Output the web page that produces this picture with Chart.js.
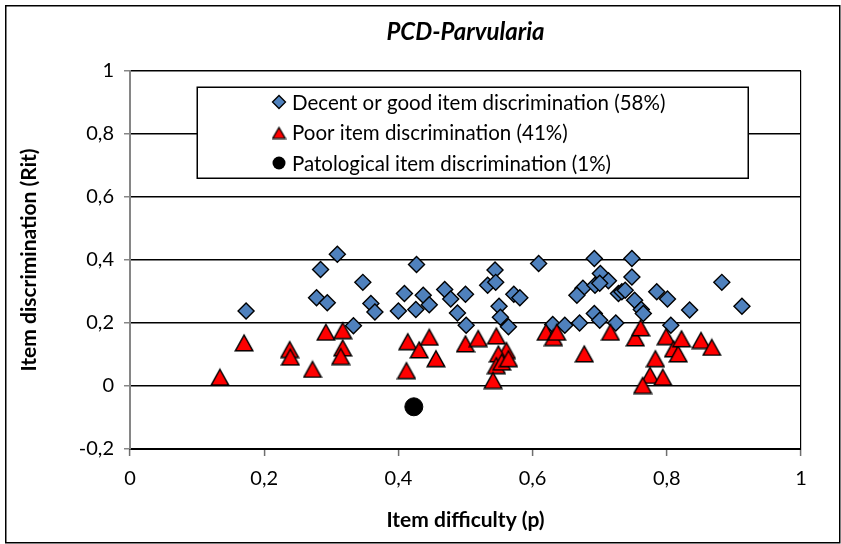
<!DOCTYPE html>
<html>
<head>
<meta charset="utf-8">
<title>PCD-Parvularia</title>
<script src="https://cdn.jsdelivr.net/npm/chart.js@4/dist/chart.umd.min.js"></script>
<style>
  html, body { margin: 0; padding: 0; background: #fff; }
  #wrap { width: 841px; height: 544px; position: relative; }
  canvas { display: block; }
</style>
</head>
<body>
<div id="wrap"><canvas id="chart" width="841" height="544"></canvas></div>
<script>
// Texts
const chartTitle = 'PCD-Parvularia';
const xAxisTitle = 'Item difficulty (p)';
const yAxisTitle = 'Item discrimination (Rit)';
const seriesLabels = [
  'Decent or good item discrimination (58%)',
  'Poor item discrimination (41%)',
  'Patological item discrimination (1%)'
];

// Axis ticks
const xTickValues = [0, 0.2, 0.4, 0.6, 0.8, 1];
const yTickValues = [-0.2, 0, 0.2, 0.4, 0.6, 0.8, 1];

// Items with decent or good discrimination: difficulty p and Rit
const decentP = [0.173, 0.284, 0.278, 0.294, 0.309, 0.347, 0.359, 0.365, 0.333, 0.427,
  0.409, 0.400, 0.426, 0.437, 0.446, 0.469, 0.478, 0.500, 0.488, 0.501,
  0.544, 0.533, 0.545, 0.550, 0.552, 0.564, 0.572, 0.581, 0.609, 0.692,
  0.748, 0.701, 0.713, 0.748, 0.675, 0.666, 0.693, 0.700, 0.728, 0.733,
  0.738, 0.752, 0.762, 0.765, 0.785, 0.801, 0.834, 0.882, 0.912, 0.630,
  0.648, 0.670, 0.692, 0.700, 0.724, 0.806];
const decentRit = [0.238, 0.370, 0.280, 0.264, 0.418, 0.329, 0.262, 0.235, 0.191, 0.386,
  0.294, 0.238, 0.243, 0.288, 0.258, 0.306, 0.276, 0.291, 0.232, 0.193,
  0.368, 0.320, 0.329, 0.253, 0.218, 0.188, 0.291, 0.280, 0.389, 0.405,
  0.405, 0.357, 0.334, 0.346, 0.310, 0.288, 0.320, 0.326, 0.294, 0.299,
  0.304, 0.272, 0.243, 0.230, 0.299, 0.276, 0.241, 0.329, 0.253, 0.195,
  0.193, 0.200, 0.230, 0.209, 0.200, 0.193];

// Items with poor discrimination
const poorP = [0.170, 0.134, 0.238, 0.239, 0.272, 0.292, 0.317, 0.317, 0.314, 0.414,
  0.431, 0.446, 0.456, 0.412, 0.500, 0.519, 0.546, 0.561, 0.549, 0.546,
  0.554, 0.564, 0.541, 0.620, 0.631, 0.636, 0.677, 0.716, 0.753, 0.761,
  0.799, 0.810, 0.817, 0.822, 0.851, 0.867, 0.783, 0.775, 0.794, 0.764];
const poorRit = [0.138, 0.029, 0.117, 0.093, 0.054, 0.172, 0.177, 0.122, 0.095, 0.142,
  0.116, 0.156, 0.088, 0.050, 0.135, 0.152, 0.160, 0.114, 0.103, 0.066,
  0.077, 0.088, 0.019, 0.172, 0.155, 0.172, 0.103, 0.172, 0.154, 0.186,
  0.158, 0.119, 0.103, 0.151, 0.146, 0.124, 0.088, 0.035, 0.029, 0.003];

// Items with pathological (negative) discrimination
const patoP = [0.423];
const patoRit = [-0.066];

const FONT = 'Lato, "Open Sans", sans-serif';
const BLUE = '#4F81BD';
const RED = '#FF0000';

function toPoints(xs, ys) {
  return xs.map((x, i) => ({ x: x, y: ys[i] }));
}
function fmt(v) {
  return String(Math.round(v * 10) / 10).replace('.', ',');
}

// Triangle marker centred on its bounding box
function makeTriangle(w, h, lw) {
  const c = document.createElement('canvas');
  c.width = w; c.height = h;
  const g = c.getContext('2d');
  g.beginPath();
  g.moveTo(w / 2, 2);
  g.lineTo(w - 1.2, h - 1.2);
  g.lineTo(1.2, h - 1.2);
  g.closePath();
  g.fillStyle = RED;
  g.fill();
  g.lineWidth = lw;
  g.lineJoin = 'miter';
  g.strokeStyle = '#000';
  g.stroke();
  return c;
}
const triMarker = makeTriangle(20, 19, 1.5);
const triLegend = makeTriangle(15, 14, 1.3);

function drawDiamond(ctx, x, y, r) {
  ctx.beginPath();
  ctx.moveTo(x - r, y); ctx.lineTo(x, y - r); ctx.lineTo(x + r, y); ctx.lineTo(x, y + r);
  ctx.closePath();
  ctx.fillStyle = BLUE; ctx.fill();
  ctx.lineWidth = 1.3; ctx.strokeStyle = '#000'; ctx.stroke();
}
function drawDot(ctx, x, y, r) {
  ctx.beginPath();
  ctx.arc(x, y, r, 0, Math.PI * 2);
  ctx.fillStyle = '#000'; ctx.fill();
}

// Legend box sitting over the grid, under the markers
const legendBox = {
  id: 'legendBox',
  beforeDatasetsDraw(chart) {
    const ctx = chart.ctx;
    const L = 197, T = 87, R = 748, B = 178;
    ctx.save();
    ctx.fillStyle = '#fff';
    ctx.fillRect(L, T, R - L, B - T);
    ctx.lineWidth = 1.5;
    ctx.strokeStyle = '#000';
    ctx.strokeRect(L + 0.25, T + 0.25, R - L, B - T);
    const rows = [102, 132.5, 163];
    const mx = 279, tx = 292;
    ctx.font = '20.5px ' + FONT;
    ctx.fillStyle = '#000';
    ctx.textBaseline = 'middle';
    ctx.textAlign = 'left';
    chart.data.datasets.forEach((ds, i) => {
      const y = rows[i];
      if (i === 0) drawDiamond(ctx, mx, y, 6.5);
      else if (i === 1) ctx.drawImage(triLegend, mx - triLegend.width / 2, y - triLegend.height / 2);
      else drawDot(ctx, mx, y, 6.5);
      ctx.fillStyle = '#000';
      ctx.fillText(ds.label, tx, y + 1);
    });
    ctx.restore();
  }
};

// Frame, chart title and axis titles
const frameAndTitles = {
  id: 'frameAndTitles',
  afterDraw(chart) {
    const ctx = chart.ctx;
    const area = chart.chartArea;
    ctx.save();
    ctx.lineWidth = 1.5;
    ctx.strokeStyle = '#000';
    ctx.strokeRect(5.75, 5.75, 834, 537);
    ctx.fillStyle = '#000';
    ctx.textAlign = 'center';
    ctx.textBaseline = 'middle';
    ctx.font = 'italic bold 24px ' + FONT;
    ctx.fillText(chartTitle, (area.left + area.right) / 2, 32);
    ctx.font = 'bold 21px ' + FONT;
    ctx.fillText(xAxisTitle, (area.left + area.right) / 2, 520);
    ctx.translate(29, (area.top + area.bottom) / 2);
    ctx.rotate(-Math.PI / 2);
    ctx.fillText(yAxisTitle, 0, 0);
    ctx.restore();
  }
};

const chart = new Chart(document.getElementById('chart'), {
  type: 'scatter',
  data: {
    datasets: [
      {
        label: seriesLabels[0],
        data: toPoints(decentP, decentRit),
        pointStyle: 'rectRot',
        pointRadius: 8,
        backgroundColor: BLUE,
        borderColor: '#000',
        borderWidth: 1.4,
        order: 2
      },
      {
        label: seriesLabels[1],
        data: toPoints(poorP, poorRit),
        pointStyle: triMarker,
        pointRadius: 9,
        backgroundColor: RED,
        borderColor: '#000',
        order: 1
      },
      {
        label: seriesLabels[2],
        data: toPoints(patoP, patoRit),
        pointStyle: 'circle',
        pointRadius: 9,
        backgroundColor: '#000',
        borderColor: '#000',
        borderWidth: 1,
        order: 0
      }
    ]
  },
  options: {
    responsive: false,
    animation: false,
    events: [],
    layout: { padding: { left: 0, top: 71, right: 40, bottom: 0 } },
    plugins: {
      legend: { display: false },
      title: { display: false },
      tooltip: { enabled: false }
    },
    scales: {
      x: {
        type: 'linear',
        min: xTickValues[0],
        max: xTickValues[xTickValues.length - 1],
        afterBuildTicks: s => { s.ticks = xTickValues.map(v => ({ value: v })); },
        afterFit: s => { s.height = 95; },
        ticks: {
          color: '#000',
          font: { family: FONT, size: 20 },
          padding: 11,
          maxRotation: 0,
          autoSkip: false,
          callback: fmt
        },
        grid: {
          drawOnChartArea: true,
          color: c => (c.tick && c.tick.value === 1) ? '#000' : 'rgba(0,0,0,0)',
          lineWidth: 1.2,
          tickLength: 7,
          tickColor: '#6f6f6f',
          tickWidth: 1.5
        },
        border: { display: true, color: '#000', width: 2 }
      },
      y: {
        type: 'linear',
        min: yTickValues[0],
        max: yTickValues[yTickValues.length - 1],
        afterBuildTicks: s => { s.ticks = yTickValues.map(v => ({ value: v })); },
        afterFit: s => { s.width = 130; },
        ticks: {
          color: '#000',
          font: { family: FONT, size: 20 },
          padding: 10,
          autoSkip: false,
          callback: fmt
        },
        grid: {
          color: '#000',
          lineWidth: 1.5,
          tickLength: 6,
          tickColor: '#868686',
          tickWidth: 1.5
        },
        border: { display: true, color: '#868686', width: 2 }
      }
    }
  },
  plugins: [legendBox, frameAndTitles]
});
</script>
</body>
</html>
